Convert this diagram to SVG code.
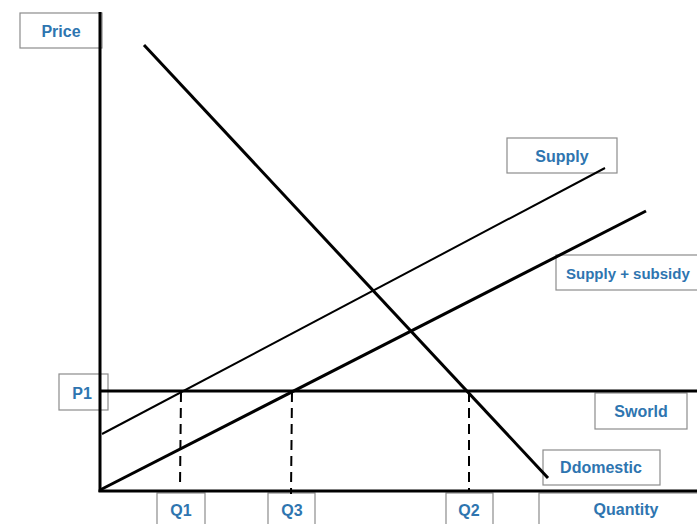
<svg xmlns="http://www.w3.org/2000/svg" width="697" height="524" viewBox="0 0 697 524">
<style>
.box{fill:#fff;stroke:#8c8c8c;stroke-width:1.2}
.lbl{font-family:"Liberation Sans",Arial,sans-serif;font-weight:bold;font-size:16px;fill:#2e75b0;text-anchor:middle;dominant-baseline:central}
.ln{stroke:#000;fill:none;stroke-linecap:butt}
</style>
<rect width="697" height="524" fill="#fff"/>
<g id="price-label"><rect class="box" x="20" y="13" width="82" height="35"/><text class="lbl" x="61" y="31">Price</text></g>
<g id="p1-label"><rect class="box" x="59" y="374" width="49" height="36"/><text class="lbl" x="82" y="393">P1</text></g>
<g id="supply-label"><rect class="box" x="507" y="138" width="110" height="35"/><text class="lbl" x="562" y="156">Supply</text></g>
<g id="subsidy-label"><rect class="box" x="556" y="255" width="150" height="35"/><text class="lbl" x="566" y="273" style="text-anchor:start;font-size:15px">Supply + subsidy</text></g>
<g id="sworld-label"><rect class="box" x="595" y="393" width="92" height="36"/><text class="lbl" x="641" y="411">Sworld</text></g>
<g id="ddomestic-label"><rect class="box" x="543" y="450" width="117" height="35"/><text class="lbl" x="601" y="467">Ddomestic</text></g>
<g id="q1-label"><rect class="box" x="157" y="493" width="48" height="40"/><text class="lbl" x="181" y="510">Q1</text></g>
<g id="q3-label"><rect class="box" x="268" y="493" width="47" height="40"/><text class="lbl" x="292" y="510">Q3</text></g>
<g id="q2-label"><rect class="box" x="446" y="493" width="47" height="40"/><text class="lbl" x="469" y="510">Q2</text></g>
<g id="quantity-label"><rect class="box" x="539" y="493" width="170" height="40"/><text class="lbl" x="626" y="509">Quantity</text></g>
<g id="connectors">
<line class="ln" x1="100" y1="12" x2="100" y2="492" stroke-width="3"/>
<line class="ln" x1="98.5" y1="491" x2="697" y2="491" stroke-width="3"/>
<line class="ln" x1="100" y1="391" x2="697" y2="391" stroke-width="3"/>
<line class="ln" x1="144" y1="45" x2="548" y2="478" stroke-width="3"/>
<line class="ln" x1="102" y1="434" x2="605" y2="168" stroke-width="2"/>
<line class="ln" x1="100" y1="490" x2="646" y2="211" stroke-width="3"/>
<line class="ln" x1="181" y1="392" x2="180" y2="487" stroke-width="2" stroke-dasharray="10,6"/>
<line class="ln" x1="292" y1="392" x2="291" y2="494" stroke-width="2" stroke-dasharray="10,6"/>
<line class="ln" x1="469" y1="392" x2="469" y2="490" stroke-width="2" stroke-dasharray="10,6"/>
</g>
</svg>
